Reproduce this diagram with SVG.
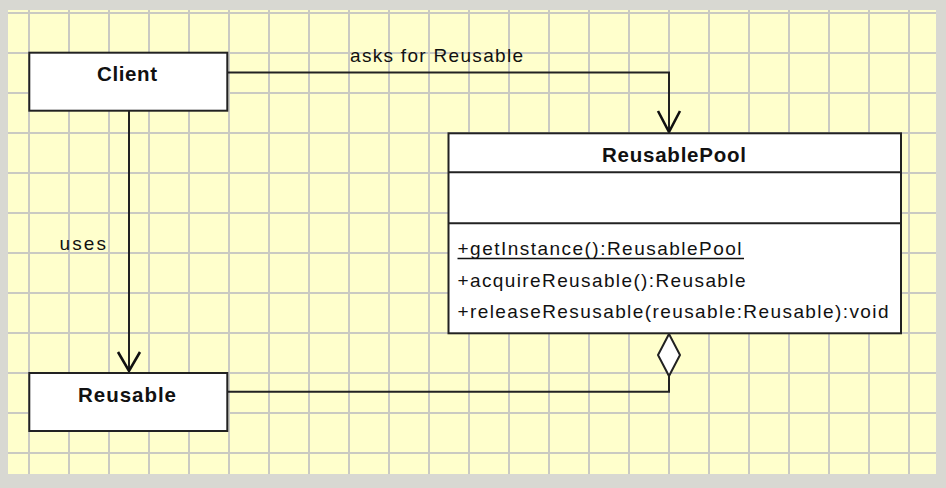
<svg xmlns="http://www.w3.org/2000/svg" width="946" height="488" viewBox="0 0 946 488">
<defs>
<style>
.grid{stroke:#cacac2;stroke-width:2;fill:none}
.box{fill:#fff;stroke:#222;stroke-width:2}
.sep{stroke:#222;stroke-width:2}
.name{font-family:"Liberation Sans",Arial,sans-serif;font-weight:bold;font-size:20.5px;fill:#111;text-anchor:middle}
.txt{font-family:"Liberation Sans",Arial,sans-serif;font-size:19px;fill:#111}
.line{fill:none;stroke:#222;stroke-width:2}
.head{fill:none;stroke:#111;stroke-width:2.6}
</style>
</defs>
<rect width="946" height="488" fill="#d8d8d2"/>
<rect x="8" y="10" width="928" height="464" fill="#ffffcc"/>
<path class="grid" d="M29 10V474M69 10V474M109 10V474M149 10V474M189 10V474M229 10V474M269 10V474M309 10V474M349 10V474M389 10V474M429 10V474M469 10V474M509 10V474M549 10V474M589 10V474M629 10V474M669 10V474M709 10V474M749 10V474M789 10V474M829 10V474M869 10V474M909 10V474M8 13H936M8 53H936M8 93H936M8 133H936M8 173H936M8 213H936M8 253H936M8 293H936M8 333H936M8 373H936M8 413H936M8 453H936"/>
<g id="connectors">
<g id="c-asks">
<path class="line" d="M227 72.5H669V132"/>
<path class="head" d="M658 111L669 132L680 111"/>
<text class="txt" x="350" y="61.5" textLength="173" lengthAdjust="spacing">asks for Reusable</text>
</g>
<g id="c-uses">
<path class="line" d="M129 111V371"/>
<path class="head" d="M118 352L129 371L140 352"/>
<text class="txt" x="59.5" y="250" textLength="46.5" lengthAdjust="spacing">uses</text>
</g>
<g id="c-aggr">
<path class="line" d="M227 391.7H669V376"/>
<path d="M669 334L680 355L669 376L658 355Z" fill="#fff" stroke="#222" stroke-width="2"/>
</g>
</g>
<g id="client">
<rect class="box" x="29.3" y="52.7" width="198" height="58"/>
<text class="name" x="127" y="81" textLength="60" lengthAdjust="spacing">Client</text>
</g>
<g id="reusable">
<rect class="box" x="29.3" y="373" width="198" height="58"/>
<text class="name" x="127" y="401.7" textLength="98" lengthAdjust="spacing">Reusable</text>
</g>
<g id="reusablepool">
<rect class="box" x="448.5" y="133.3" width="452.5" height="200"/>
<line class="sep" x1="448.5" y1="172.3" x2="901" y2="172.3"/>
<line class="sep" x1="448.5" y1="223.3" x2="901" y2="223.3"/>
<text class="name" x="674" y="161.7" textLength="144" lengthAdjust="spacing">ReusablePool</text>
<text class="txt" x="457.5" y="255" textLength="284" lengthAdjust="spacing">+getInstance():ReusablePool</text>
<line x1="457.5" y1="258.5" x2="744" y2="258.5" stroke="#111" stroke-width="1.5"/>
<text class="txt" x="457.5" y="286.7" textLength="288" lengthAdjust="spacing">+acquireReusable():Reusable</text>
<text class="txt" x="457.5" y="318.3" textLength="431" lengthAdjust="spacing">+releaseResusable(reusable:Reusable):void</text>
</g>
</svg>
